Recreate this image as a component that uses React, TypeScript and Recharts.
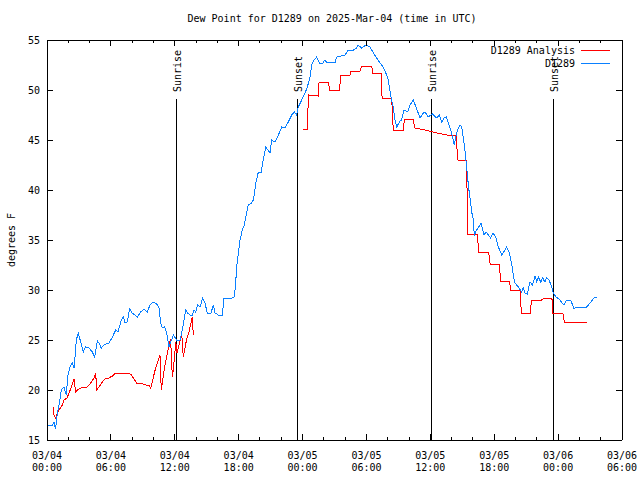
import { Legend, Line, LineChart, ReferenceLine, XAxis, YAxis } from 'recharts'

const FONT = '"DejaVu Sans Mono", monospace'
const BLUE = '#0a80ff'
const RED = '#ff0000'

// hours since 03/04 00:00 UTC
const obsHours = [
  0, 0.5, 0.66, 0.8, 0.97, 1.13, 1.35, 1.6, 1.8, 1.97, 2.16, 2.38, 2.54, 2.6, 2.75, 2.94, 3.16, 3.4, 3.63, 3.94,
  4.26, 4.48, 4.73, 4.88, 5.1, 5.34, 5.82, 6.14, 6.45, 6.66, 6.98, 7.17, 7.33, 7.54, 7.76, 8.0, 8.48, 8.8, 9.1, 9.42,
  9.67, 9.98, 10.3, 10.52, 10.68, 10.83, 11.04, 11.24, 11.46, 11.6, 11.7, 11.86, 12.0, 12.18, 12.49, 12.65, 12.8, 13.02, 13.2, 13.43,
  13.65, 13.8, 13.96, 14.15, 14.37, 14.62, 14.84, 15.05, 15.4, 15.62, 15.78, 16.09, 16.47, 16.62, 17.34, 17.6, 17.72, 17.81, 17.97, 18.13,
  18.34, 18.53, 18.75, 18.9, 19.2, 19.38, 19.63, 19.85, 20.1, 20.3, 20.55, 20.94, 21.1, 21.4, 21.73, 22.04, 22.35, 22.66, 22.98, 23.23,
  23.45, 23.6, 23.92, 24.23, 24.45, 24.7, 24.86, 25.07, 25.33, 25.58, 25.9, 26.1, 26.3, 26.58, 27.05, 27.2, 27.99, 28.3, 28.8, 29.08,
  29.2, 29.55, 29.96, 30.33, 30.65, 30.96, 31.27, 31.58, 31.9, 32.05, 32.3, 32.52, 32.68, 32.84, 33.15, 33.3, 33.53, 33.87, 34.09, 34.4,
  34.72, 35.03, 35.34, 35.5, 35.8, 36.19, 36.6, 36.85, 37.06, 37.3, 37.5, 37.75, 38.0, 38.25, 38.38, 38.57, 38.79, 38.94, 39.1, 39.3,
  39.45, 39.6, 39.73, 39.88, 40.0, 40.13, 40.35, 40.5, 40.75, 41.04, 41.23, 41.45, 41.67, 41.9, 42.16, 42.39, 42.7, 42.9, 43.17, 43.4,
  43.64, 43.8, 43.95, 44.27, 44.58, 44.72, 44.9, 45.1, 45.36, 45.6, 45.83, 46.0, 46.14, 46.37, 46.55, 46.76, 46.9, 47.15, 47.4, 47.55,
  47.8, 48.1, 48.3, 48.55, 48.8, 49.18, 49.5, 49.7, 50.68, 51.0, 51.37, 51.62,
]
const obsDew = [
  16.5, 16.5, 16.8, 16.1, 17.7, 18.5, 20, 20.3, 19.5, 21.5, 22.3, 22.7, 22.2, 22.8, 25, 25.7, 24.8, 23.8, 24.3, 24.2,
  23.8, 23.3, 24.9, 24.7, 24.2, 24.5, 24.7, 25.3, 26, 25.8, 27, 27.3, 26.7, 26.8, 28.1, 27.7, 27.3, 27.8, 28.1, 27.8,
  28.5, 28.8, 28.6, 28.2, 26.7, 26.2, 26.3, 25.7, 24.3, 24.8, 25, 25.5, 25.3, 25, 25, 25.7, 26.5, 28, 27.7, 27.5,
  27.5, 28, 27.8, 28.5, 28.3, 29.2, 28.7, 27.7, 27.7, 28.5, 27.7, 27.5, 27.5, 29.2, 29.2, 29.3, 30.7, 32.3, 33.7, 35,
  36, 36.5, 37.7, 38.5, 38.7, 39, 40.8, 41.8, 41.7, 43, 44.3, 43.7, 45, 44.8, 45.5, 46.3, 46.2, 46.8, 47.5, 47.8,
  47.5, 48.3, 49, 49.7, 50.3, 51.3, 52.5, 53, 53.3, 52.7, 52.7, 53, 52.7, 52.8, 52.7, 53.3, 53.5, 54, 54, 54.2,
  54.5, 54.2, 54.5, 54.3, 53.7, 53.2, 52.7, 52.3, 51.5, 51, 49.3, 48.3, 47, 46.3, 46.9, 47, 48, 47.8, 48.5, 49,
  48.1, 47.2, 47.7, 47.8, 47.3, 47.6, 47.2, 47.5, 46.8, 47.2, 47.3, 46.5, 45.7, 44.5, 45.3, 46, 46.5, 46.3, 45.2, 43.5,
  41.8, 40.2, 39.2, 37.8, 37.3, 35.5, 36, 36.2, 36.7, 35.5, 35.8, 35.5, 35.2, 35.7, 35.2, 34.3, 33.5, 33.8, 34.3, 33.8,
  32.6, 31.4, 30.7, 30.3, 29.8, 30.2, 29.7, 29.6, 30.8, 30.5, 31.4, 30.8, 31.3, 30.8, 31.2, 30.8, 31.2, 31, 30.3, 29.7,
  29.3, 29.1, 28.8, 28.5, 29, 29, 28.1, 28.3, 28.3, 28.7, 29.2, 29.3,
]

const anaHours = [
  0.6, 0.66, 0.82, 0.97, 1.13, 1.44, 1.6, 1.87, 2.07, 2.29, 2.54, 2.69, 2.85, 3.16, 3.47, 3.78, 4.1, 4.41, 4.57, 4.67,
  4.88, 5.2, 5.5, 5.8, 6.14, 6.45, 7.7, 7.94, 8.23, 8.48, 8.79, 9.27, 9.58, 9.74, 9.9, 10.1, 10.36, 10.61, 10.73, 10.83,
  11.05, 11.3, 11.46, 11.61, 11.77, 11.86, 12.1, 12.2, 12.58, 12.65, 12.8, 13.1, 13.33, 13.52, 13.65, 13.74,
  18,
  24.07, 24.45, 24.55, 25.48, 25.55, 26.42, 26.55, 27.48, 27.58, 28.46, 28.55, 29.4, 29.55, 30.5, 30.6, 31.37, 31.47, 32.37, 32.52, 33.47,
  33.56, 34.4, 34.52, 35.5, 36.6, 37.54, 38.45, 38.55, 39.4, 39.52, 40.4, 40.55, 41.48, 41.62, 42.48, 42.6, 43.42, 43.55, 44.42, 44.55,
  45.38, 45.5, 46.45, 46.6, 47.42, 47.5, 48.45, 48.58, 50.68,
]
const anaDew: (number | null)[] = [
  18.3, 17.5, 17.2, 17.7, 18, 18.5, 19, 19.2, 19.7, 20.3, 21.1, 19.8, 20, 20.2, 20.3, 20.3, 20.7, 21.2, 21.7, 20,
  20.3, 20.8, 21.2, 21.2, 21.4, 21.7, 21.7, 21.5, 21, 20.6, 20.7, 20.5, 20.5, 20.2, 20.8, 21.8, 22.7, 23.5, 20, 20.7,
  22.3, 23.7, 24.5, 25.1, 21.3, 22, 24.8, 23.7, 25.3, 25.7, 23.3, 25, 25.8, 26.7, 27.3, 25.5,
  null,
  46.1, 46.1, 49.5, 49.4, 50.8, 50.8, 50, 50, 51.5, 51.5, 51.9, 51.9, 52.4, 52.4, 51.7, 51.7, 49.2, 49.2, 46, 46,
  47.1, 47.1, 46.2, 46, 45.7, 45.5, 45.4, 43, 42.9, 35.6, 35.6, 33.8, 33.8, 32.6, 32.6, 30.9, 30.9, 30, 30, 27.7,
  27.7, 29, 29, 29.1, 29.2, 27.7, 27.7, 26.8, 26.8,
]

const sunHours = [12.16, 23.53, 36.12, 47.56]
const sunLabels = ['Sunrise', 'Sunset', 'Sunrise', 'Sunset']

const xTicks = [0, 2, 4, 6, 8, 10, 12, 14, 16, 18, 20, 22, 24, 26, 28, 30, 32, 34, 36, 38, 40, 42, 44, 46, 48, 50, 52, 54]
const xMajorTicks = [0, 6, 12, 18, 24, 30, 36, 42, 48, 54]
const xTickDates = ['03/04', '03/04', '03/04', '03/04', '03/05', '03/05', '03/05', '03/05', '03/06', '03/06']
const xTickTimes = ['00:00', '06:00', '12:00', '18:00', '00:00', '06:00', '12:00', '18:00', '00:00', '06:00']
const yTicks = [15, 20, 25, 30, 35, 40, 45, 50, 55]
const legendOrder = ['D1289 Analysis', 'D1289']

const obsData = obsHours.map((h, i) => ({ h, v: obsDew[i] }))
const anaData = anaHours.map((h, i) => ({ h, v: anaDew[i] }))

const txt = { fontFamily: FONT, fontSize: 10, fill: '#000' }

function BottomTick({ x, y, payload }: any) {
  const i = xMajorTicks.indexOf(payload.value)
  return (
    <g>
      <line x1={x} y1={y} x2={x} y2={y - (i >= 0 ? 6 : 3)} stroke="#000" shapeRendering="crispEdges" />
      {i >= 0 && (
        <text {...txt} x={x} y={y + 18.5} textAnchor="middle">
          {xTickDates[i]}
        </text>
      )}
      {i >= 0 && (
        <text {...txt} x={x} y={y + 30.5} textAnchor="middle">
          {xTickTimes[i]}
        </text>
      )}
    </g>
  )
}

function TopTick({ x, y, payload }: any) {
  const major = xMajorTicks.includes(payload.value)
  return <line x1={x} y1={y} x2={x} y2={y + (major ? 6 : 3)} stroke="#000" shapeRendering="crispEdges" />
}

function LeftTick({ x, y, payload }: any) {
  return (
    <g>
      <line x1={x} y1={y} x2={x + 6} y2={y} stroke="#000" shapeRendering="crispEdges" />
      <text {...txt} x={x - 7} y={y + 3.5} textAnchor="end">
        {payload.value}
      </text>
    </g>
  )
}

function RightTick({ x, y }: any) {
  return <line x1={x} y1={y} x2={x - 6} y2={y} stroke="#000" shapeRendering="crispEdges" />
}

function SunLabel({ viewBox, value }: any) {
  const x = viewBox.x
  const y = viewBox.y - 7
  return (
    <text {...txt} x={x} y={y} dy={4.5} textAnchor="start" transform={`rotate(-90 ${x} ${y})`}>
      {value}
    </text>
  )
}

function YLabel({ viewBox }: any) {
  const x = viewBox.x + 8
  const y = viewBox.y + viewBox.height / 2
  return (
    <text {...txt} x={x} y={y} textAnchor="middle" transform={`rotate(-90 ${x} ${y})`}>
      degrees F
    </text>
  )
}

function LegendBox({ payload }: any) {
  const items = [...(payload || [])].sort(
    (a: any, b: any) => legendOrder.indexOf(a.value) - legendOrder.indexOf(b.value),
  )
  return (
    <div style={{ fontFamily: FONT, fontSize: 10, color: '#000' }}>
      {items.map((p: any) => (
        <div key={p.value} style={{ display: 'flex', justifyContent: 'flex-end', alignItems: 'center', height: 13 }}>
          <span style={{ lineHeight: '13px', whiteSpace: 'pre' }}>{p.value}</span>
          <svg width={36} height={13}>
            <line x1={6} x2={35} y1={6.5} y2={6.5} stroke={p.color} shapeRendering="crispEdges" />
          </svg>
        </div>
      ))}
    </div>
  )
}

export default function App() {
  return (
    <div style={{ position: 'absolute', left: 0, top: 0, width: 640, height: 480, background: '#fff' }}>
      <div
        style={{
          position: 'absolute',
          top: 13,
          left: 0,
          width: 664,
          textAlign: 'center',
          fontFamily: FONT,
          fontSize: 10,
          lineHeight: '12px',
          whiteSpace: 'pre',
        }}
      >
        Dew Point for D1289 on 2025-Mar-04 (time in UTC)
      </div>
      <LineChart width={640} height={480} margin={{ top: 30, right: 8, bottom: 10, left: 7 }}>
        <XAxis
          type="number"
          dataKey="h"
          domain={[0, 54]}
          allowDataOverflow
          ticks={xTicks}
          interval={0}
          tick={BottomTick}
          tickLine={false}
          tickSize={0}
          tickMargin={0}
          height={30}
          axisLine={{ stroke: '#000', shapeRendering: 'crispEdges' }}
        />
        <XAxis
          xAxisId="top"
          orientation="top"
          type="number"
          dataKey="h"
          domain={[0, 54]}
          allowDataOverflow
          ticks={xTicks}
          interval={0}
          tick={TopTick}
          tickLine={false}
          tickSize={0}
          tickMargin={0}
          height={10}
          axisLine={{ stroke: '#000', shapeRendering: 'crispEdges' }}
        />
        <YAxis
          type="number"
          domain={[15, 55]}
          allowDataOverflow
          ticks={yTicks}
          interval={0}
          tick={LeftTick}
          tickLine={false}
          tickSize={0}
          tickMargin={0}
          width={40}
          axisLine={{ stroke: '#000', shapeRendering: 'crispEdges' }}
          label={{ content: YLabel }}
        />
        <YAxis
          yAxisId="right"
          orientation="right"
          type="number"
          domain={[15, 55]}
          allowDataOverflow
          ticks={yTicks}
          interval={0}
          tick={RightTick}
          tickLine={false}
          tickSize={0}
          tickMargin={0}
          width={10}
          axisLine={{ stroke: '#000', shapeRendering: 'crispEdges' }}
        />
        {sunHours.map((h, i) => (
          <ReferenceLine
            key={i}
            segment={[
              { x: h, y: 15 },
              { x: h, y: 49.1 },
            ]}
            stroke="#000"
            strokeWidth={1}
            shapeRendering="crispEdges"
            label={{ value: sunLabels[i], content: SunLabel }}
          />
        ))}
        <Line
          data={anaData}
          dataKey="v"
          name="D1289 Analysis"
          type="linear"
          stroke={RED}
          strokeWidth={1}
          shapeRendering="crispEdges"
          dot={false}
          activeDot={false}
          isAnimationActive={false}
        />
        <Line
          data={obsData}
          dataKey="v"
          name="D1289"
          type="linear"
          stroke={BLUE}
          strokeWidth={1}
          shapeRendering="crispEdges"
          dot={false}
          activeDot={false}
          isAnimationActive={false}
        />
        <Legend
          layout="vertical"
          align="center"
          verticalAlign="middle"
          content={LegendBox}
          wrapperStyle={{ top: 43.5, right: 29, width: 200 }}
        />
      </LineChart>
    </div>
  )
}
